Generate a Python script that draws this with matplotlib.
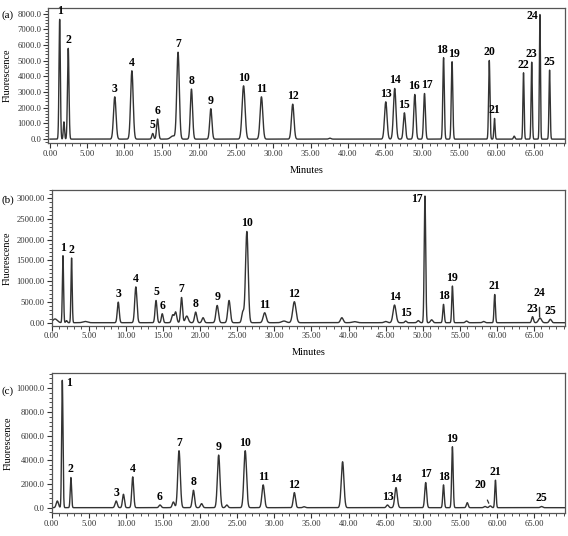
import numpy as np
import matplotlib.pyplot as plt
from matplotlib.ticker import MultipleLocator, FormatStrFormatter

plt.rcParams['font.family'] = ['Liberation Serif', 'DejaVu Serif']

# peak tables: retention time (min), height, sigma (min), label
times_a = [1.3, 1.87, 2.45, 8.7, 11.0, 13.8, 14.45, 16.5, 17.2, 19.0, 21.6, 26.0, 28.4,
           32.6, 37.6, 45.1, 46.3, 47.6, 49.0, 50.3, 52.86, 54.0, 59.0, 59.7, 62.35,
           63.6, 64.7, 65.8, 67.1]
heights_a = [7640, 1100, 5790, 2700, 4360, 360, 1280, 200, 5530, 3190, 1940, 3400, 2700,
             2230, 60, 2380, 3230, 1680, 2850, 2910, 5190, 4940, 5020, 1320, 190,
             4230, 4910, 7950, 4400]
widths_a = [0.09, 0.08, 0.1, 0.17, 0.17, 0.12, 0.13, 0.3, 0.17, 0.15, 0.15, 0.2, 0.18,
            0.17, 0.15, 0.17, 0.17, 0.14, 0.14, 0.12, 0.1, 0.1, 0.09, 0.08, 0.1,
            0.08, 0.08, 0.07, 0.08]
labels_a = ['1', '', '2', '3', '4', '5', '6', '', '7', '8', '9', '10', '11',
            '12', '', '13', '14', '15', '16', '17', '18', '19', '20', '21', '',
            '22', '23', '24', '25']

times_b = [0.45, 1.52, 2.0, 2.68, 4.5, 8.97, 11.34, 14.06, 14.9, 16.3, 16.7, 17.5, 18.2,
           19.4, 20.4, 22.3, 23.9, 25.76, 26.3, 28.7, 31.3, 32.7, 39.1, 40.8, 45.0,
           46.2, 47.7, 49.4, 50.3, 51.2, 52.8, 54.0, 55.9, 58.2, 59.7, 64.8, 65.8, 67.2]
heights_b = [90, 1616, 50, 1560, 30, 496, 864, 536, 216, 184, 256, 608, 160,
             256, 120, 416, 536, 256, 2200, 240, 40, 506, 120, 25, 30,
             426, 40, 50, 3055, 70, 442, 884, 40, 30, 680, 145, 113, 82]
widths_b = [0.3, 0.08, 0.1, 0.08, 0.3, 0.13, 0.15, 0.13, 0.12, 0.15, 0.15, 0.13, 0.2,
            0.15, 0.15, 0.17, 0.17, 0.15, 0.18, 0.2, 0.3, 0.22, 0.18, 0.3, 0.2,
            0.2, 0.12, 0.15, 0.1, 0.15, 0.1, 0.09, 0.15, 0.15, 0.09, 0.12, 0.2, 0.15]
labels_b = ['', '1', '', '2', '', '3', '4', '5', '6', '', '', '7', '',
            '8', '', '9', '', '', '10', '11', '', '12', '', '', '',
            '14', '15', '', '17', '', '18', '19', '', '', '21', '23', '', '25']

times_c = [0.76, 1.43, 2.59, 8.69, 9.67, 10.92, 14.6, 16.4, 17.16, 19.1, 20.2, 22.5, 23.6,
           26.08, 28.5, 32.7, 34.0, 39.2, 45.25, 46.4, 50.4, 52.8, 54.0, 56.0, 58.4,
           59.1, 59.8, 66.0]
heights_c = [560, 10640, 2520, 560, 1120, 2576, 224, 476, 4760, 1456, 336, 4396, 224,
             4760, 1904, 1260, 80, 3836, 224, 1680, 2100, 1904, 5096, 420, 100,
             150, 2296, 100]
widths_c = [0.15, 0.09, 0.09, 0.15, 0.13, 0.13, 0.15, 0.15, 0.17, 0.15, 0.15, 0.17, 0.15,
            0.18, 0.17, 0.15, 0.15, 0.18, 0.15, 0.17, 0.13, 0.1, 0.1, 0.12, 0.15,
            0.15, 0.09, 0.15]
labels_c = ['', '1', '2', '3', '', '4', '6', '', '7', '8', '', '9', '',
            '10', '11', '12', '', '', '13', '14', '17', '18', '19', '', '',
            '', '21', '25']

y_ticks_a = [0, 1000, 2000, 3000, 4000, 5000, 6000, 7000, 8000]
y_ticks_b = [0, 500, 1000, 1500, 2000, 2500, 3000]
y_ticks_c = [0, 2000, 4000, 6000, 8000, 10000]
x_ticks = [0, 5, 10, 15, 20, 25, 30, 35, 40, 45, 50, 55, 60, 65]


def chromatogram(t, times, heights, widths):
    y = np.zeros_like(t)
    for t0, h, s in zip(times, heights, widths):
        y += h * np.exp(-0.5 * ((t - t0) / s) ** 2)
    return y


t = np.linspace(0, 69.2, 12000)
line_color = '#333333'

fig = plt.figure(figsize=(5.68, 5.36), dpi=100)

panels = [
    ('(a)', [0.085, 0.733, 0.9097, 0.253], (-0.23, 69.17), times_a, heights_a, widths_a,
     labels_a, y_ticks_a, (-255, 8395), 200, '%.1f', 0.972, -0.079),
    ('(b)', [0.091, 0.3927, 0.9037, 0.2528], (0.23, 69.17), times_b, heights_b, widths_b,
     labels_b, y_ticks_b, (-68, 3200), 100, '%.2f', 0.627, -0.087),
    ('(c)', [0.091, 0.0424, 0.9037, 0.2617], (0.23, 69.17), times_c, heights_c, widths_c,
     labels_c, y_ticks_c, (-468, 11253), 400, '%.1f', 0.2705, -0.085),
]

# labels that sit beside their peak or are nudged sideways
label_tweaks = {
    ('(a)', '24'): dict(xytext=(-1.5, -1), ha='right', va='center'),
    ('(a)', '18'): dict(xytext=(-1.2, 1.5), ha='center', va='bottom'),
    ('(a)', '19'): dict(xytext=(1.2, 1.5), ha='center', va='bottom'),
    ('(a)', '17'): dict(xytext=(1.5, 1.5), ha='center', va='bottom'),
    ('(a)', '16'): dict(xytext=(-0.5, 1.5), ha='center', va='bottom'),
    ('(b)', '17'): dict(xytext=(-1.5, -2), ha='right', va='center'),
    ('(c)', '1'): dict(xytext=(3, -2), ha='left', va='center'),
}

axes = []
for name, pos, xlim, times, heights, widths, labels, yt, ylim, yminor, yfmt, ty, ylx in panels:
    ax = fig.add_axes(pos)
    axes.append(ax)
    ax.plot(t, chromatogram(t, times, heights, widths), color=line_color, lw=1.0)
    ax.set_xlim(*xlim)
    ax.set_ylim(*ylim)
    ax.set_xticks(x_ticks)
    ax.set_yticks(yt)
    ax.xaxis.set_minor_locator(MultipleLocator(1))
    ax.yaxis.set_minor_locator(MultipleLocator(yminor))
    ax.xaxis.set_major_formatter(FormatStrFormatter('%.2f'))
    ax.yaxis.set_major_formatter(FormatStrFormatter(yfmt))
    ax.tick_params(which='major', direction='out', length=3.5, width=0.8,
                   labelsize=6.2, pad=1.5, colors='#333333')
    ax.tick_params(which='minor', direction='out', length=2, width=0.6, colors='#333333')
    for sp in ax.spines.values():
        sp.set_color('#555555')
        sp.set_linewidth(0.9)
    ax.set_xlabel('Minutes', fontsize=7.5)
    ax.xaxis.set_label_coords(0.5, -0.2)
    ax.xaxis.label.set_va('center')
    ax.set_ylabel('Fluorescence', fontsize=7.3)
    ax.yaxis.label.set_va('center')
    ax.yaxis.set_label_coords(ylx, 0.5)
    fig.text(0.003, ty, name, fontsize=8, ha='left', va='center')

    for t0, h, lab in zip(times, heights, labels):
        if not lab:
            continue
        kw = label_tweaks.get((name, lab), dict(xytext=(0, 1.5), ha='center', va='bottom'))
        ax.annotate(lab, xy=(t0, h), textcoords='offset points', fontsize=8.5,
                    fontweight='bold', **kw)

# labels with leader lines
axes[1].annotate('24', xy=(65.75, 140), xytext=(65.7, 716), fontsize=8.5, fontweight='bold',
                 ha='center', va='center',
                 arrowprops=dict(arrowstyle='-', color=line_color, lw=1.0, shrinkA=4, shrinkB=0))
axes[2].annotate('20', xy=(58.9, 370), xytext=(57.8, 1900), fontsize=8.5, fontweight='bold',
                 ha='center', va='center',
                 arrowprops=dict(arrowstyle='-', color=line_color, lw=0.9, shrinkA=5, shrinkB=0))

fig.savefig('out.png', dpi=100)
